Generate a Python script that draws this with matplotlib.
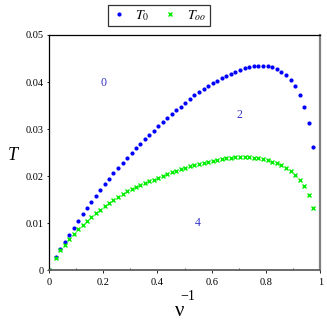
import matplotlib
matplotlib.use("Agg")
import matplotlib.pyplot as plt
from matplotlib.lines import Line2D

plt.rcParams["mathtext.fontset"] = "stix"

# inverse nu grid
nu_inv = [0.000, 0.026, 0.043, 0.060, 0.076, 0.092, 0.108, 0.125, 0.141, 0.157,
          0.173, 0.190, 0.207, 0.222, 0.238, 0.256, 0.272, 0.288, 0.305, 0.320,
          0.337, 0.353, 0.370, 0.386, 0.403, 0.419, 0.437, 0.452, 0.470, 0.486,
          0.503, 0.519, 0.536, 0.553, 0.571, 0.587, 0.604, 0.621, 0.637, 0.654,
          0.672, 0.687, 0.705, 0.722, 0.738, 0.755, 0.771, 0.788, 0.806, 0.823,
          0.840, 0.856, 0.873, 0.890, 0.906, 0.924, 0.940, 0.957, 0.973]

T_0 = [0.0000, 0.0029, 0.0046, 0.0061, 0.0075, 0.0090, 0.0105, 0.0119, 0.0132, 0.0145,
       0.0158, 0.0170, 0.0183, 0.0194, 0.0206, 0.0217, 0.0228, 0.0238, 0.0249, 0.0260,
       0.0269, 0.0279, 0.0288, 0.0297, 0.0307, 0.0315, 0.0324, 0.0332, 0.0340, 0.0348,
       0.0356, 0.0365, 0.0373, 0.0379, 0.0385, 0.0392, 0.0397, 0.0403, 0.0408, 0.0413,
       0.0417, 0.0421, 0.0425, 0.0429, 0.0431, 0.0434, 0.0435, 0.0435, 0.0434, 0.0432,
       0.0428, 0.0422, 0.0414, 0.0404, 0.0391, 0.0373, 0.0348, 0.0314, 0.0262]

T_oo = [0.0000, 0.0027, 0.0043, 0.0055, 0.0066, 0.0077, 0.0087, 0.0097, 0.0105, 0.0113,
        0.0122, 0.0129, 0.0137, 0.0144, 0.0150, 0.0156, 0.0162, 0.0168, 0.0173, 0.0177,
        0.0181, 0.0185, 0.0189, 0.0193, 0.0197, 0.0201, 0.0205, 0.0208, 0.0212, 0.0215,
        0.0218, 0.0221, 0.0224, 0.0226, 0.0229, 0.0231, 0.0233, 0.0235, 0.0237, 0.0238,
        0.0239, 0.0240, 0.0240, 0.0240, 0.0240, 0.0239, 0.0238, 0.0236, 0.0234, 0.0231,
        0.0228, 0.0224, 0.0218, 0.0211, 0.0203, 0.0192, 0.0179, 0.0160, 0.0133]

# region labels inside the plot
region_text = ["0", "2", "4"]
region_x = [0.20, 0.70, 0.55]
region_y = [0.0399, 0.0330, 0.0100]

x_ticks = [0, 0.2, 0.4, 0.6, 0.8, 1]
x_tick_labels = ["0", "0.2", "0.4", "0.6", "0.8", "1"]
y_ticks = [0, 0.01, 0.02, 0.03, 0.04, 0.05]
y_tick_labels = ["0", "0.01", "0.02", "0.03", "0.04", "0.05"]

SERIF = ["Liberation Serif", "DejaVu Serif"]

fig = plt.figure(figsize=(3.27, 3.27), dpi=100)
ax = fig.add_axes([0.149, 0.173, 0.831, 0.720])

ax.plot(nu_inv, T_0, linestyle="none", marker="o", markersize=3.0,
        color="#0000ff", markeredgewidth=0)
ax.plot(nu_inv, T_oo, linestyle="none", marker="x", markersize=3.2,
        color="#00ee00", markeredgewidth=1.0)

for s, xv, yv in zip(region_text, region_x, region_y):
    ax.text(xv, yv, s, color="#3333cc", fontsize=8.5, family=SERIF,
            ha="center", va="center")

ax.set_xlim(0, 1.0)
ax.set_ylim(0, 0.05)
ax.set_xticks(x_ticks)
ax.set_xticklabels(x_tick_labels, family=SERIF, fontsize=7.5)
ax.set_yticks(y_ticks)
ax.set_yticklabels(y_tick_labels, family=SERIF, fontsize=7.5)
ax.set_xticks([0.1, 0.3, 0.5, 0.7, 0.9], minor=True)
ax.tick_params(axis="x", which="major", direction="out", length=2.5, width=0.6, pad=3)
ax.tick_params(axis="x", which="minor", direction="in", length=1.5, width=0.5)
ax.tick_params(axis="y", which="major", direction="out", length=1.5, width=0.6, pad=2)

# boxed frame: dark left/top, grey right/bottom
ax.spines["left"].set_color("black")
ax.spines["top"].set_color("black")
ax.spines["left"].set_linewidth(0.9)
ax.spines["top"].set_linewidth(0.9)
ax.spines["right"].set_color("#808080")
ax.spines["bottom"].set_color("#606060")
ax.spines["right"].set_linewidth(1.6)
ax.spines["bottom"].set_linewidth(1.3)

# axis labels (nu^-1 laid out as in the original)
fig.text(188 / 327, 1 - 296 / 327, "\u22121", family=SERIF, fontsize=10,
         ha="center", va="center")
fig.text(180 / 327, 1 - 311 / 327, "\u03bd", family=SERIF, fontsize=15,
         ha="center", va="center")
fig.text(13 / 327, 1 - 155 / 327, "T", family=SERIF, style="italic",
         fontsize=13, ha="center", va="center")

handles = [
    Line2D([], [], linestyle="none", marker="o", markersize=3.0,
           color="#0000ff", markeredgewidth=0),
    Line2D([], [], linestyle="none", marker="x", markersize=3.2,
           color="#00ee00", markeredgewidth=1.0),
]
leg = fig.legend(handles, ["$T_0$", "$T_{oo}$"], loc="center",
                 bbox_to_anchor=(159 / 327, 1 - 15.5 / 327), ncol=2,
                 frameon=True, fancybox=False, edgecolor="black",
                 handlelength=1.0, handletextpad=0.7, columnspacing=1.0,
                 borderpad=0.25, prop={"family": SERIF, "size": 10})
leg.get_frame().set_linewidth(0.9)

fig.savefig("out.png", dpi=100)
